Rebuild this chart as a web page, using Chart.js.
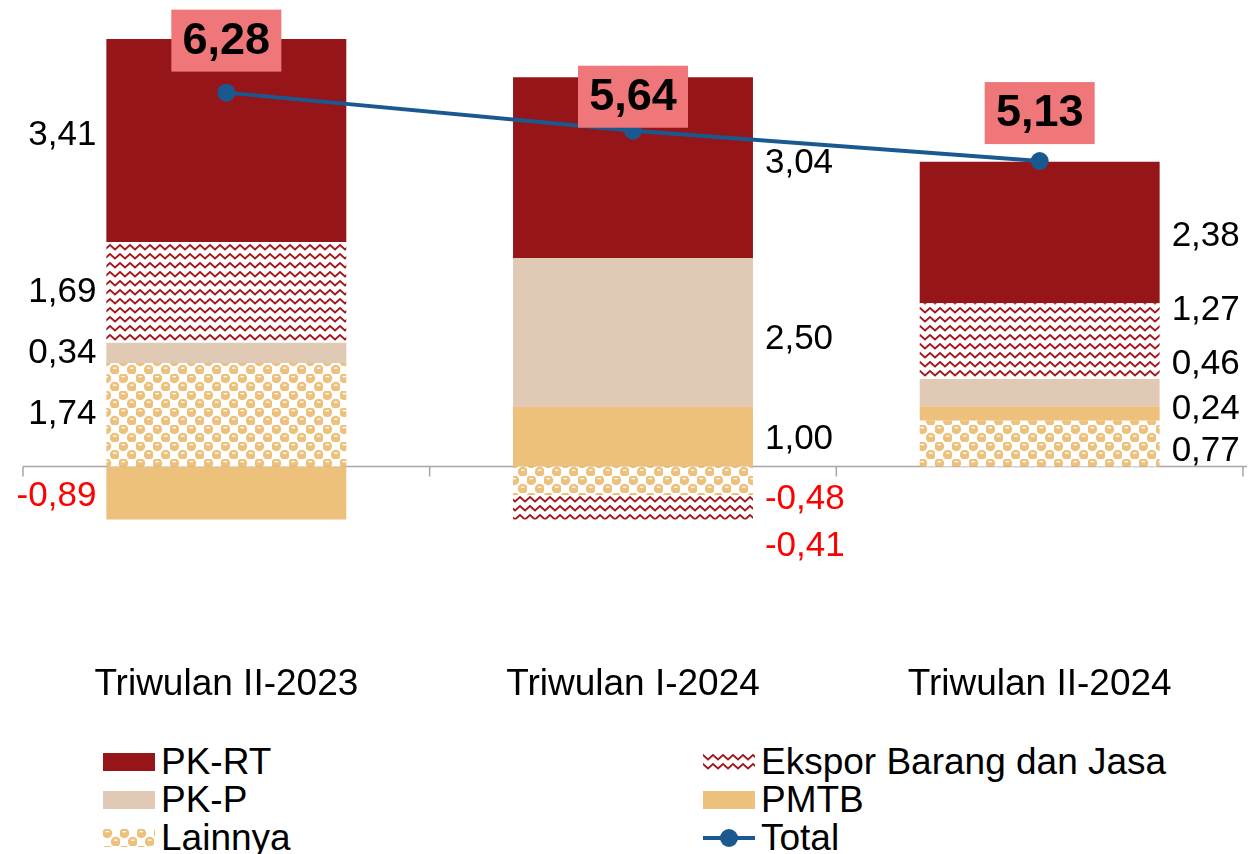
<!DOCTYPE html>
<html lang="id">
<head>
<meta charset="UTF-8">
<title>Sumber Pertumbuhan Ekonomi</title>
<script src="https://cdn.jsdelivr.net/npm/chart.js"></script>
<style>
  body { margin: 0; background: #fff; font-family: "Liberation Sans", Arial, sans-serif; }
  #wrap { position: relative; width: 1252px; height: 854px; overflow: hidden; }
  #chart { position: absolute; left: 0; top: 0; }
  .legend-item { position: absolute; height: 38px; display: flex; align-items: center;
                 font-size: 37px; line-height: 38px; color: #000; white-space: nowrap; }
  .legend-item canvas { margin-right: 6px; }
</style>
</head>
<body>
<div id="wrap">
  <canvas id="chart" width="1252" height="715"></canvas>
  <div id="legend"></div>
</div>
<script>
// data
const categories = ['Triwulan II-2023', 'Triwulan I-2024', 'Triwulan II-2024'];
const lainnya = [1.74, -0.48, 0.77];
const pmtb    = [-0.89, 1.00, 0.24];
const pkp     = [0.34, 2.50, 0.46];
const ekspor  = [1.69, -0.41, 1.27];
const pkrt    = [3.41, 3.04, 2.38];
const total   = [6.28, 5.64, 5.13];

const RED = '#951519';
const BEIGE = '#E0C9B5';
const ORANGE = '#EDC07C';
const BLUE = '#1A5990';

// fill patterns
function zigzagPattern() {
    const c = document.createElement('canvas');
    c.width = 10; c.height = 9;
    const g = c.getContext('2d');
    g.fillStyle = '#fff';
    g.fillRect(0, 0, 10, 9);
    g.strokeStyle = '#A3151B';
    g.lineWidth = 1.8;
    g.beginPath();
    g.moveTo(-5, 6.5); g.lineTo(0, 2); g.lineTo(5, 6.5); g.lineTo(10, 2); g.lineTo(15, 6.5);
    g.stroke();
    return g.createPattern(c, 'repeat');
}

function dotPattern() {
    const c = document.createElement('canvas');
    c.width = 17; c.height = 17;
    const g = c.getContext('2d');
    g.fillStyle = '#fff';
    g.fillRect(0, 0, 17, 17);
    g.fillStyle = ORANGE;
    [[4.25, 4.25], [12.75, 12.75]].forEach(p => {
        g.beginPath();
        g.arc(p[0], p[1], 4.9, 0, Math.PI * 2);
        g.fill();
    });
    g.fillStyle = '#fff';
    g.fillRect(2.5, 2, 3.5, 1.3);
    g.fillRect(11, 10.5, 3.5, 1.3);
    return g.createPattern(c, 'repeat');
}

const zigzag = zigzagPattern();
const dots = dotPattern();

function fmt(v) {
    return v.toFixed(2).replace('.', ',');
}

// thin gray axis line at zero with category tick marks
const zeroAxis = {
    id: 'zeroAxis',
    beforeDatasetsDraw(chart) {
        const { ctx, chartArea, scales } = chart;
        const y0 = scales.y.getPixelForValue(0);
        const step = (chartArea.right - chartArea.left) / categories.length;
        ctx.save();
        ctx.strokeStyle = '#A6A6A6';
        ctx.lineWidth = 1.5;
        ctx.beginPath();
        ctx.moveTo(chartArea.left, y0);
        ctx.lineTo(chartArea.right + 4, y0);
        for (let i = 0; i <= categories.length; i++) {
            const px = chartArea.left + step * i;
            ctx.moveTo(px, y0);
            ctx.lineTo(px, y0 + 10);
        }
        ctx.stroke();
        ctx.restore();
    }
};

// value labels next to each stacked segment
const segmentLabels = {
    id: 'segmentLabels',
    afterDatasetsDraw(chart, args, opts) {
        const ctx = chart.ctx;
        ctx.save();
        ctx.font = '35px "Liberation Sans", Arial, sans-serif';
        ctx.textBaseline = 'middle';
        chart.data.datasets.forEach((ds, di) => {
            if (ds.type === 'line') return;
            const meta = chart.getDatasetMeta(di);
            meta.data.forEach((bar, i) => {
                const v = ds.data[i];
                const nudge = (opts.nudge[ds.label] || [])[i] || 0;
                const y = (bar.y + bar.base) / 2 + nudge;
                const half = bar.width / 2;
                let x;
                if (i === 0) {
                    ctx.textAlign = 'right';
                    x = bar.x - half - 10;
                } else {
                    ctx.textAlign = 'left';
                    x = bar.x + half + 12;
                }
                ctx.fillStyle = v < 0 ? '#FF0000' : '#000000';
                ctx.fillText(fmt(v), x, y);
            });
        });
        ctx.restore();
    }
};

// boxed total labels above the line points
const totalLabels = {
    id: 'totalLabels',
    afterDatasetsDraw(chart, args, opts) {
        const ctx = chart.ctx;
        const di = chart.data.datasets.findIndex(d => d.type === 'line');
        const meta = chart.getDatasetMeta(di);
        ctx.save();
        ctx.font = 'bold 45px "Liberation Sans", Arial, sans-serif';
        ctx.textAlign = 'center';
        ctx.textBaseline = 'middle';
        meta.data.forEach((pt, i) => {
            const cy = pt.y + opts.offset[i];
            const w = 110, h = 62;
            ctx.fillStyle = '#EF7679';
            ctx.fillRect(pt.x - w / 2, cy - h / 2, w, h);
            ctx.fillStyle = '#000';
            ctx.fillText(fmt(total[i]), pt.x, cy + 1);
        });
        ctx.restore();
    }
};

const chart = new Chart(document.getElementById('chart').getContext('2d'), {
    type: 'bar',
    data: {
        labels: categories,
        datasets: [
            { label: 'Lainnya', data: lainnya, backgroundColor: dots, order: 1 },
            { label: 'PMTB', data: pmtb, backgroundColor: ORANGE, order: 1 },
            { label: 'PK-P', data: pkp, backgroundColor: BEIGE, order: 1 },
            { label: 'Ekspor Barang dan Jasa', data: ekspor, backgroundColor: zigzag, order: 1 },
            { label: 'PK-RT', data: pkrt, backgroundColor: RED, order: 1 },
            {
                type: 'line', label: 'Total', data: total, order: 0,
                borderColor: BLUE, borderWidth: 4, tension: 0,
                pointRadius: 9, pointBackgroundColor: BLUE, pointBorderWidth: 0
            }
        ]
    },
    options: {
        responsive: false,
        animation: false,
        layout: { padding: { left: 23, right: 4, top: 20, bottom: 0 } },
        datasets: {
            bar: { barPercentage: 0.59, categoryPercentage: 1, stack: 'a' }
        },
        scales: {
            x: {
                stacked: true,
                grid: { display: false, drawTicks: false },
                border: { display: false },
                ticks: {
                    color: '#000', padding: 8,
                    font: { family: '"Liberation Sans", Arial, sans-serif', size: 37 }
                }
            },
            y: {
                stacked: true,
                display: false,
                min: -3.16,
                max: 7.5
            }
        },
        plugins: {
            legend: { display: false },
            tooltip: { enabled: false },
            segmentLabels: {
                nudge: {
                    'Lainnya': [0, 19, 8],
                    'PMTB': [3, 3, -4],
                    'PK-P': [1, 7, -28],
                    'Ekspor Barang dan Jasa': [0, 39, -31],
                    'PK-RT': [-5, -4, 4]
                }
            },
            totalLabels: { offset: [-52, -34, -48] }
        }
    },
    plugins: [zeroAxis, segmentLabels, totalLabels]
});

// legend in two columns below the chart
const legendItems = [
    { text: 'PK-RT', fill: RED, left: 103, top: 743 },
    { text: 'Ekspor Barang dan Jasa', fill: zigzag, left: 703, top: 743 },
    { text: 'PK-P', fill: BEIGE, left: 103, top: 781 },
    { text: 'PMTB', fill: ORANGE, left: 703, top: 781 },
    { text: 'Lainnya', fill: dots, left: 103, top: 819 },
    { text: 'Total', line: true, left: 703, top: 819 }
];

const legendBox = document.getElementById('legend');
legendItems.forEach(item => {
    const div = document.createElement('div');
    div.className = 'legend-item';
    div.style.left = item.left + 'px';
    div.style.top = item.top + 'px';
    const sw = document.createElement('canvas');
    sw.width = 52;
    sw.height = item.line ? 22 : 18;
    const g = sw.getContext('2d');
    if (item.line) {
        g.strokeStyle = BLUE;
        g.lineWidth = 4;
        g.beginPath();
        g.moveTo(0, 11); g.lineTo(52, 11);
        g.stroke();
        g.fillStyle = BLUE;
        g.beginPath();
        g.arc(26, 11, 9, 0, Math.PI * 2);
        g.fill();
    } else {
        g.fillStyle = item.fill;
        g.fillRect(0, 0, 52, 18);
    }
    div.appendChild(sw);
    const span = document.createElement('span');
    span.textContent = item.text;
    div.appendChild(span);
    legendBox.appendChild(div);
});
</script>
</body>
</html>
